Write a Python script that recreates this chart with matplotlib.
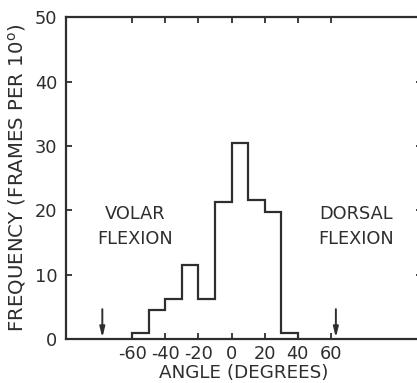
import matplotlib
matplotlib.use("Agg")
import matplotlib.pyplot as plt

# histogram of wrist angle, 10 degree bins
bin_edges = [-60, -50, -40, -30, -20, -10, 0, 10, 20, 30, 40]
counts = [1.0, 4.6, 6.3, 11.6, 6.3, 21.3, 30.5, 21.7, 19.8, 1.0]

x_ticks = [-60, -40, -20, 0, 20, 40, 60]
x_ticklabels = ["-60", "-40", "-20", "0", "20", "40", "60"]
y_ticks = [0, 10, 20, 30, 40, 50]

# arrows marking the limits
arrow_x = [-78, 63]

ink = "#2e2e2e"
plt.rcParams["font.family"] = "DejaVu Sans"

fig = plt.figure(figsize=(4.17, 3.83), dpi=100)
# right edge of the frame is cut off in the scan
ax = fig.add_axes([0.158, 0.1136, 0.854, 0.842])

ax.stairs(counts, bin_edges, color=ink, linewidth=1.6)

for xa in arrow_x:
    ax.annotate("", xy=(xa, 0.3), xytext=(xa, 4.7),
                arrowprops=dict(arrowstyle="-|>,head_length=0.6,head_width=0.15",
                                color=ink, lw=1.4, shrinkA=0, shrinkB=0))

ax.text(-58, 17.5, "VOLAR\nFLEXION", ha="center", va="center",
        fontsize=12.8, color=ink, linespacing=1.45)
ax.text(75, 17.5, "DORSAL\nFLEXION", ha="center", va="center",
        fontsize=12.8, color=ink, linespacing=1.45)

ax.set_xlim(-100, 115)
ax.set_ylim(0, 50)
ax.set_xticks(x_ticks)
ax.set_xticklabels(x_ticklabels)
ax.set_yticks(y_ticks)

ax.tick_params(direction="in", length=4, width=1.3, color=ink,
               labelcolor=ink, labelsize=12.8, top=True, right=True)
ax.tick_params(axis="y", which="both", right=True)
ax.tick_params(axis="y", pad=6)
ax.tick_params(axis="x", pad=4)

for s in ax.spines.values():
    s.set_linewidth(1.6)
    s.set_color(ink)
ax.spines["right"].set_visible(False)

ax.set_xlabel("ANGLE (DEGREES)", fontsize=13.2, color=ink, labelpad=1)
ax.set_ylabel("FREQUENCY (FRAMES PER 10$^{\\rm o}$)", fontsize=14.2,
              color=ink, labelpad=5)

fig.savefig("out.png", dpi=100)
